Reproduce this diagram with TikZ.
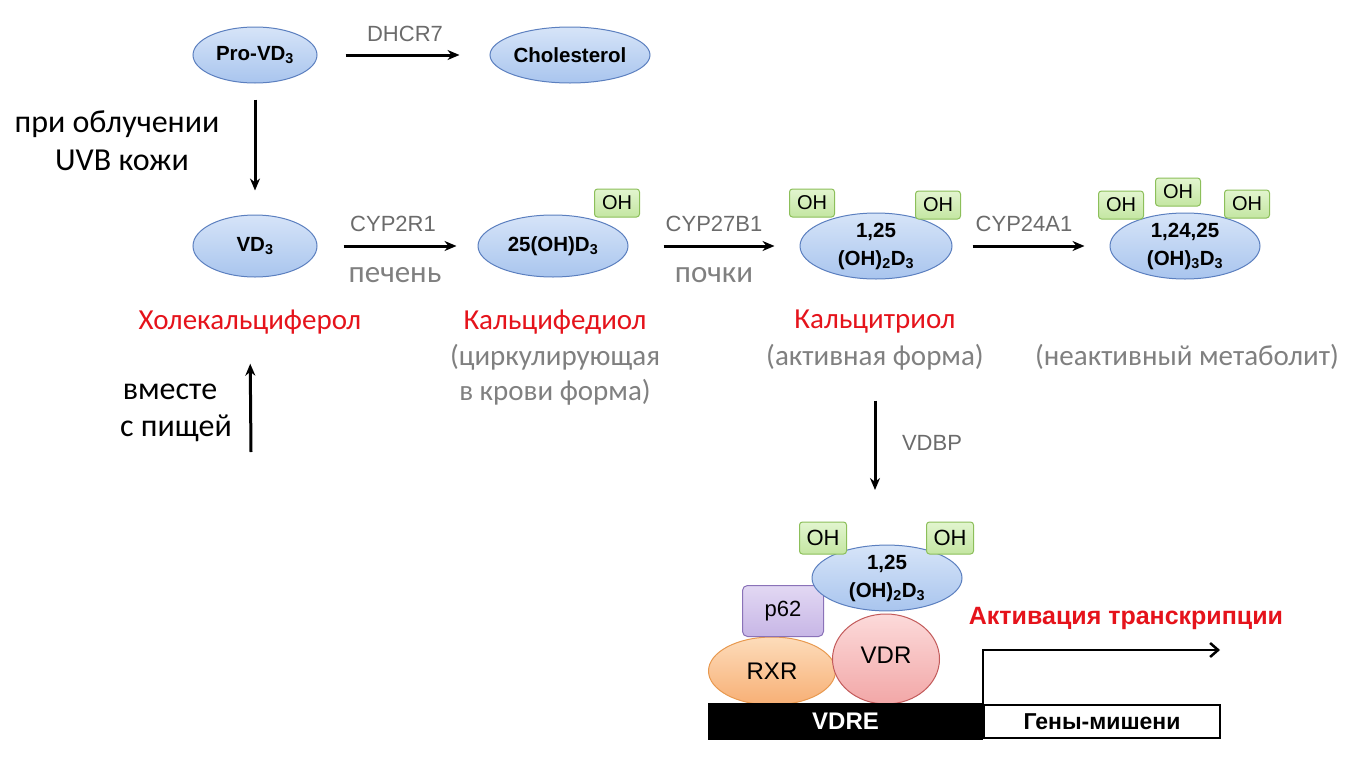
\documentclass[tikz,border=0pt]{standalone}
\usepackage{fontspec}
\setmainfont{Liberation Sans}
\newfontfamily\calib{Carlito}
\usetikzlibrary{arrows.meta,shapes.geometric,shadings}
\definecolor{ellA}{HTML}{D6E4F8}
\definecolor{ellB}{HTML}{A9C5EE}
\definecolor{ellD}{HTML}{5B7FBF}
\definecolor{ohA}{HTML}{E2F5CF}
\definecolor{ohB}{HTML}{C4E6A2}
\definecolor{ohD}{HTML}{8CBF5A}
\definecolor{pA}{HTML}{E2D8F3}
\definecolor{pB}{HTML}{C7B6E6}
\definecolor{pD}{HTML}{8A72B8}
\definecolor{rA}{HTML}{FDDCBA}
\definecolor{rB}{HTML}{F7AF75}
\definecolor{rD}{HTML}{E8994F}
\definecolor{vA}{HTML}{FCDADA}
\definecolor{vB}{HTML}{F2A7A7}
\definecolor{vD}{HTML}{C25A5A}
\definecolor{redt}{HTML}{E5131B}
\definecolor{grayt}{HTML}{808080}
\definecolor{grayl}{HTML}{6B6B6B}
\tikzset{
  mol/.style={ellipse,draw=ellD,line width=1pt,top color=ellA,bottom color=ellB,inner sep=0pt,
    font=\fontsize{20.5}{28}\selectfont\bfseries,align=center},
  ohbox/.style={rectangle,rounded corners=3pt,draw=ohD,line width=1pt,top color=ohA,bottom color=ohB,
    inner sep=0pt,minimum width=45pt,minimum height=28pt,font=\fontsize{20}{22}\selectfont},
  enz/.style={font=\fontsize{22}{24}\selectfont,text=grayl},
  organ/.style={font=\calib\fontsize{31}{33}\selectfont,text=grayt},
  redlab/.style={font=\calib\fontsize{29}{31}\selectfont,text=redt},
  graylab/.style={font=\calib\fontsize{29}{31}\selectfont,text=grayt},
  blacklab/.style={font=\calib\fontsize{32}{34}\selectfont,text=black},
  arr/.style={line width=3pt,-{Stealth[length=12pt,width=10pt]}},
}
\begin{document}
\begin{tikzpicture}[x=1pt,y=-1pt]
\useasboundingbox (0,0) rectangle (1353,758);
% top row
\node[mol,minimum width=124pt,minimum height=56pt] (provd) at (255,55) {Pro-VD\textsubscript{3}};
\node[mol,minimum width=160pt,minimum height=56pt] (chol) at (570,55) {Cholesterol};
\node[enz] (dhcr) at (405,34) {DHCR7};
\draw[arr,shorten <=28pt,shorten >=30pt] (provd.east) -- (chol.west);
% middle row
\node[mol,minimum width=124pt,minimum height=62pt] (vd3) at (255,246) {VD\textsubscript{3}};
\node[mol,minimum width=150pt,minimum height=62pt] (d25) at (553,246) {25(OH)D\textsubscript{3}};
\node[mol,minimum width=152pt,minimum height=66pt] (d125) at (876,246) {1,25\\(OH)\textsubscript{2}D\textsubscript{3}};
\node[mol,minimum width=150pt,minimum height=66pt] (d12425) at (1185,246) {1,24,25\\(OH)\textsubscript{3}D\textsubscript{3}};
\node[ohbox] (oh1) at (617,203) {OH};
\node[ohbox] (oh2) at (812,203) {OH};
\node[ohbox] (oh3) at (938,205) {OH};
\node[ohbox] (oh4) at (1121,205) {OH};
\node[ohbox] (oh5) at (1178,192) {OH};
\node[ohbox] (oh6) at (1247,204) {OH};
\draw[arr,shorten <=16pt,shorten >=24pt] (provd.south) -- (vd3.north);
\draw[arr,shorten <=26pt,shorten >=21pt] (vd3.east) -- (d25.west);
\draw[arr,shorten <=35pt,shorten >=25pt] (d25.east) -- (d125.west);
\draw[arr,shorten <=20pt,shorten >=25pt] (d125.east) -- (d12425.west);
\node[enz] (cyp2r1) at (393,224) {CYP2R1};
\node[enz] (cyp27) at (714,224) {CYP27B1};
\node[enz] (cyp24) at (1024,224) {CYP24A1};
\node[organ] (liver) at (395,275) {печень};
\node[organ] (kidney) at (714,275) {почки};
% side labels
\node[blacklab] (uv1) at (117,124) {при облучении};
\node[blacklab] (uv2) at (122,160) {UVB кожи};
% names
\node[redlab] (cholecalc) at (250,322) {Холекальциферол};
\node[redlab] (calcidiol) at (555,322) {Кальцифедиол};
\node[graylab] (circ1) at (555,357) {(циркулирующая};
\node[graylab] (circ2) at (555,392) {в крови форма)};
\node[redlab] (calcitriol) at (875,322) {Кальцитриол};
\node[graylab] (activ) at (875,357) {(активная форма)};
\node[graylab] (inact) at (1187,357) {(неактивный метаболит)};
% food
\coordinate (food) at (251,452);
\draw[arr,shorten >=26pt] (food) -- (cholecalc.south);
\node[blacklab] (food1) at (170,392) {вместе};
\node[blacklab] (food2) at (176,428) {с пищей};
% VDBP
\coordinate (vdbpend) at (875,490);
\draw[arr,shorten <=27pt] (activ.south) -- (vdbpend);
\node[enz] (vdbp) at (932,443) {VDBP};
% bottom complex
\node[ellipse,draw=rD,line width=1pt,top color=rA,bottom color=rB,inner sep=0pt,minimum width=127pt,minimum height=68pt,font=\fontsize{24}{26}\selectfont] (rxr) at (772,671) {RXR};
\node[ellipse,draw=vD,line width=1pt,top color=vA,bottom color=vB,inner sep=0pt,minimum width=107pt,minimum height=90pt,font=\fontsize{24}{26}\selectfont] (vdr) at (886,659) {\raisebox{8pt}{VDR}};
\node[rectangle,rounded corners=5pt,draw=pD,line width=1pt,top color=pA,bottom color=pB,inner sep=0pt,minimum width=81pt,minimum height=51pt,font=\fontsize{22}{24}\selectfont] (p62) at (783,611) {p62};
\node[mol,minimum width=150pt,minimum height=64pt] (cplx) at (887,578) {1,25\\(OH)\textsubscript{2}D\textsubscript{3}};
\node[ohbox,minimum width=47pt,minimum height=32pt,font=\fontsize{22}{24}\selectfont] (oh7) at (823,538) {OH};
\node[ohbox,minimum width=47pt,minimum height=32pt,font=\fontsize{22}{24}\selectfont] (oh8) at (950,538) {OH};
% DNA
\node[rectangle,fill=black,inner sep=0pt,minimum width=275pt,minimum height=37pt,text=white,font=\fontsize{24}{26}\selectfont\bfseries] (vdre) at (845.5,721.5) {VDRE};
\node[rectangle,draw=black,line width=2pt,fill=white,inner sep=0pt,minimum width=236pt,minimum height=33pt,font=\fontsize{23}{25}\selectfont\bfseries] (genes) at (1102,721.5) {Гены-мишени};
\coordinate (tsend) at (1220,650);
\draw[line width=2.5pt,-{Straight Barb[length=8pt,width=14pt,line width=2.5pt]}] (genes.north west) |- (tsend);
\node[font=\fontsize{25}{27}\selectfont\bfseries,text=redt] (activation) at (1126,618) {Активация транскрипции};
\end{tikzpicture}
\end{document}
